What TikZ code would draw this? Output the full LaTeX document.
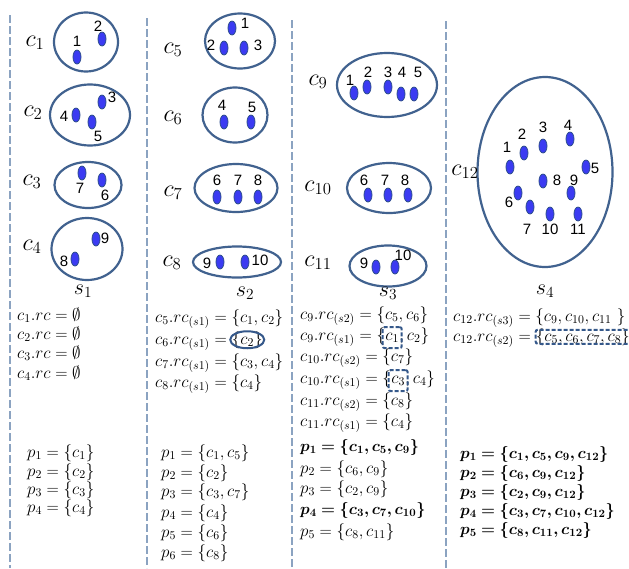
\RequirePackage{fix-cm}
\documentclass[tikz,border=0pt]{standalone}
\usepackage{amsmath}
\usepackage{amssymb}
\usepackage{bm}
\usepackage{fontspec}
\newfontfamily\numfont{Liberation Sans}
\usetikzlibrary{
  shapes.geometric,
  positioning,
  fit
}
\definecolor{clRing}{HTML}{41628F}
\definecolor{clDot}{HTML}{3B3BF2}
\definecolor{clDotEdge}{HTML}{2E4E8E}
\definecolor{clSep}{HTML}{8BA3C1}
\definecolor{clMark}{HTML}{35588A}
\tikzset{
  cluster/.style={draw=clRing, line width=2.2pt, ellipse, inner sep=0pt},
  dotnode/.style={
    ellipse, draw=clDotEdge, fill=clDot, line width=0.8pt,
    minimum width=8pt, minimum height=14pt, inner sep=0pt
  },
  numlbl/.style={font=\numfont\fontsize{15}{15}\selectfont, inner sep=0pt},
  clname/.style={font=\fontsize{24}{28}\selectfont, inner sep=0pt},
  stagelbl/.style={font=\fontsize{22}{26}\selectfont, inner sep=0pt},
  sepline/.style={draw=clSep, line width=1.6pt, dash pattern=on 8pt off 3pt},
  txtline/.style={font=\fontsize{17}{20}\selectfont, inner sep=0pt, anchor=base west},
  boldline/.style={txtline, font=\fontsize{16}{20}\selectfont},
  hlring/.style={draw=clMark, line width=2pt, ellipse, minimum width=34pt, minimum height=17pt},
  hlbox/.style={draw=clMark, line width=2pt, dash pattern=on 4pt off 2pt, rounded corners=2pt}
}

\begin{document}
\begin{tikzpicture}[x=1pt, y=-1pt]
  \useasboundingbox (0,0) rectangle (629,568);
  \fill[white] (0,0) rectangle (629,568);
  \clip (0,0) rectangle (629,568);

  % stage separators
  \foreach \x/\y in {10/15, 147/18, 292/20, 446/21}{\draw[sepline] (\x,\y) -- (\x,568);}

  % clusters and their names
  \foreach \c/\x/\y/\w/\h/\lx/\ly in {
      1/86/42/64/59/35/43, 2/90/115/80/61/33/113, 3/88/185/67/46/32/182, 4/87/249/71/62/32/247,
      5/240/41/70/55/173/50, 6/235/115/65/55/173/118, 7/236/188/83/48/173/193, 8/237/262/88/31/172/263,
      9/387/85/100/64/318/82, 10/389/188/84/50/318/188, 11/388/266/77/41/318/263,
      12/545/172/135/190/465/172}{
    \node[cluster, minimum width=\w, minimum height=\h] (c\c) at (\x,\y) {};
    \node[clname] (lc\c) at (\lx,\ly) {$c_{\c}$};
  }

  % points inside the clusters
  \foreach \c/\n/\x/\y/\lx/\ly in {
      1/1/77/57/77/41, 1/2/102/39/98/26,
      2/3/102/102/112/97, 2/4/76/115/64/116, 2/5/92/122/98/136,
      3/7/82/173/80/188, 3/6/102/180/105/195,
      4/9/96/239/105/238, 4/8/75/259/64/261,
      5/1/232/28/245/23, 5/2/224/48/211/45, 5/3/244/48/258/45,
      6/4/224/122/222/105, 6/5/251/122/252/107,
      7/6/217/197/217/180, 7/7/238/197/238/180, 7/8/258/197/258/180,
      8/9/220/262/207/263, 8/10/245/262/260/260,
      9/1/354/93/350/80, 9/2/367/87/368/72, 9/3/388/87/388/72, 9/4/401/94/402/72, 9/5/414/94/418/72,
      10/6/368/195/364/180, 10/7/388/195/385/180, 10/8/408/195/405/180,
      11/9/376/267/364/263, 11/10/395/267/403/255,
      12/1/510/167/507/147, 12/2/524/153/522/134, 12/3/543/146/543/127, 12/4/570/139/568/125,
      12/5/586/167/595/168, 12/6/518/193/509/202, 12/7/530/207/527/229, 12/8/543/181/557/180,
      12/9/571/193/574/180, 12/10/550/214/550/229, 12/11/578/214/578/229}{
    \node[dotnode] (d\c-\n) at (\x,\y) {};
    \node[numlbl] (n\c-\n) at (\lx,\ly) {\n};
  }

  % stage names
  \foreach \s/\x/\y in {1/83/291, 2/245/293, 3/388/293, 4/545/291}{
    \node[stagelbl] (s\s) at (\x,\y) {$s_{\s}$};
  }

  % stage 1
  \foreach \k/\y in {1/320, 2/339, 3/358, 4/378}{
    \node[txtline] (rc1-\k) at (17,\y) {$c_{\k}.rc = \emptyset$};
  }
  \foreach \k/\y in {1/457, 2/476, 3/494, 4/512}{
    \node[txtline] (p1-\k) at (27,\y) {$p_{\k} = \{c_{\k}\}$};
  }

  % stage 2
  \node[txtline] (rc2-1) at (155,322) {$c_5.rc_{(s1)} = \{c_1, c_2\}$};
  \node[txtline] (rc2-2) at (155,344) {$c_6.rc_{(s1)} ={}$};
  \node[txtline] (rc2-2b) at (rc2-2.base east) {$\{c_2\}$};
  \node[hlring] (m2) at (rc2-2b.center) {};
  \node[txtline] (rc2-3) at (155,366) {$c_7.rc_{(s1)} = \{c_3, c_4\}$};
  \node[txtline] (rc2-4) at (155,387) {$c_8.rc_{(s1)} = \{c_4\}$};
  \foreach \t/\y [count=\k] in {{$p_1 = \{c_1, c_5\}$}/457, {$p_2 = \{c_2\}$}/477,
      {$p_3 = \{c_3, c_7\}$}/496, {$p_4 = \{c_4\}$}/517, {$p_5 = \{c_6\}$}/537, {$p_6 = \{c_8\}$}/557}{
    \node[txtline] (p2-\k) at (161,\y) {\t};
  }

  % stage 3
  \node[txtline] (rc3-1) at (300,319) {$c_9.rc_{(s2)} = \{c_5, c_6\}$};
  \node[txtline] (rc3-2) at (300,340) {$c_9.rc_{(s1)} = \{$};
  \node[txtline] (rc3-2b) at (rc3-2.base east) {$c_1$};
  \node[txtline] (rc3-2c) at (rc3-2b.base east) {$, c_2\}$};
  \node[hlbox, minimum width=19pt, minimum height=21pt] (m3a) at (rc3-2b.center) {};
  \node[txtline] (rc3-3) at (300,361) {$c_{10}.rc_{(s2)} = \{c_7\}$};
  \node[txtline] (rc3-4) at (300,383) {$c_{10}.rc_{(s1)} = \{$};
  \node[txtline] (rc3-4b) at (rc3-4.base east) {$c_3$};
  \node[txtline] (rc3-4c) at (rc3-4b.base east) {$, c_4\}$};
  \node[hlbox, minimum width=19pt, minimum height=21pt] (m3b) at (rc3-4b.center) {};
  \node[txtline] (rc3-5) at (300,405) {$c_{11}.rc_{(s2)} = \{c_8\}$};
  \node[txtline] (rc3-6) at (300,426) {$c_{11}.rc_{(s1)} = \{c_4\}$};
  \node[boldline] (p3-1) at (300,451) {$\bm{p_1 = \{c_1, c_5, c_9\}}$};
  \node[txtline] (p3-2) at (300,473) {$p_2 = \{c_6, c_9\}$};
  \node[txtline] (p3-3) at (300,493) {$p_3 = \{c_2, c_9\}$};
  \node[boldline] (p3-4) at (300,514) {$\bm{p_4 = \{c_3, c_7, c_{10}\}}$};
  \node[txtline] (p3-5) at (300,536) {$p_5 = \{c_8, c_{11}\}$};

  % stage 4
  \node[txtline] (rc4-1) at (453,321) {$c_{12}.rc_{(s3)} = \{c_9, c_{10}, c_{11}\ \}$};
  \node[txtline] (rc4-2) at (453,341) {$c_{12}.rc_{(s2)} ={}$};
  \node[txtline] (rc4-2b) at (rc4-2.base east) {$\{c_5, c_6, c_7, c_8\}$};
  \node[hlbox, anchor=west, minimum width=100pt, minimum height=14pt] (m4) at ([xshift=-1pt]rc4-2b.west) {};
  \foreach \t/\y [count=\k] in {{$\bm{p_1 = \{c_1, c_5, c_9, c_{12}\}}$}/458, {$\bm{p_2 = \{c_6, c_9, c_{12}\}}$}/477,
      {$\bm{p_3 = \{c_2, c_9, c_{12}\}}$}/496, {$\bm{p_4 = \{c_3, c_7, c_{10}, c_{12}\}}$}/515,
      {$\bm{p_5 = \{c_8, c_{11}, c_{12}\}}$}/534}{
    \node[boldline] (p4-\k) at (460,\y) {\t};
  }
\end{tikzpicture}
\end{document}
